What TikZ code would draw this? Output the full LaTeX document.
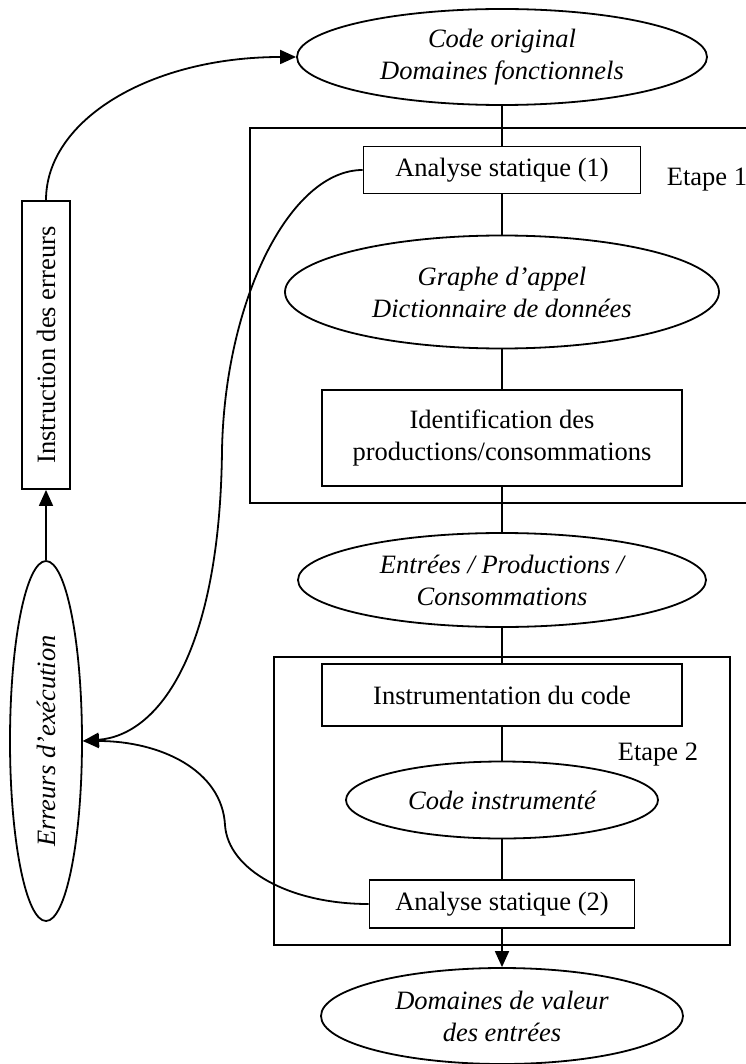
\documentclass[tikz,border=0pt]{standalone}
\usepackage{fontspec}
\setmainfont{Liberation Serif}
\usepackage{graphicx}
\usepackage{tikz}
\usetikzlibrary{arrows.meta,positioning,shapes.geometric}

\begin{document}
\begin{tikzpicture}[x=1pt, y=-1pt, line width=1.8pt,
    txt/.style={font=\fontsize{26.5pt}{32pt}\selectfont, align=center, inner sep=0pt},
    boite/.style={txt, draw, rectangle},
    bulle/.style={txt, draw, ellipse, font=\fontsize{26.5pt}{32pt}\selectfont\itshape},
    fleche/.style={-{Triangle[length=16pt,width=14pt]}}]
    \useasboundingbox (0,0) rectangle (745,1064);

    % Visual: the two steps as frames
    \draw (250,128) rectangle (770,503);
    \draw (274,657) rectangle (730,945);
    \node[txt] (etape1) at (707,180) {Etape 1};
    \node[txt] (etape2) at (658,755) {Etape 2};

    % main chain
    \node[bulle, minimum width=410pt, minimum height=96pt] (code) at (502,57) {Code original\\Domaines fonctionnels};
    \node[boite, minimum width=277pt, minimum height=47pt] (as1) at (502,170) {Analyse statique (1)};
    \node[bulle, minimum width=434pt, minimum height=113pt] (graphe) at (502,292) {Graphe d'appel\\Dictionnaire de données};
    \node[boite, minimum width=360pt, minimum height=96pt] (ident) at (502,438) {Identification des\\productions/consommations};
    \node[bulle, minimum width=408pt, minimum height=94pt] (entrees) at (502,580) {Entrées / Productions /\\Consommations};
    \node[boite, minimum width=360pt, minimum height=62pt] (instr) at (502,695) {Instrumentation du code};
    \node[bulle, minimum width=312pt, minimum height=77pt] (codeinstr) at (502,800) {Code instrumenté};
    \node[boite, minimum width=265pt, minimum height=48pt] (as2) at (502,904) {Analyse statique (2)};
    \node[bulle, minimum width=362pt, minimum height=96pt] (domaines) at (502,1016) {Domaines de valeur\\des entrées};

    % error loop on the left
    \node[boite, minimum width=48pt, minimum height=288pt] (instrerr) at (46,345) {\rotatebox{90}{Instruction des erreurs}};
    \node[bulle, minimum width=72pt, minimum height=360pt] (erreurs) at (46,741) {\rotatebox{90}{Erreurs d'exécution}};
    \coordinate (virage1) at (222,450);
    \coordinate (virage2) at (225,825);

    \draw (code) -- (as1);
    \draw (as1) -- (graphe);
    \draw (graphe) -- (ident);
    \draw (ident) -- (entrees);
    \draw (entrees) -- (instr);
    \draw (instr) -- (codeinstr);
    \draw (codeinstr) -- (as2);
    \draw[fleche] (as2) -- (domaines);

    \draw[fleche] (erreurs) -- (instrerr);
    \draw[fleche] (instrerr.north) .. controls (46,120) and (150,57) .. (code.west);
    \draw[fleche] (as1.west) .. controls (290,170) and (225,300) .. (virage1)
        .. controls (220,650) and (160,735) .. (erreurs.east);
    \draw[fleche] (as2.west) .. controls (290,904) and (228,870) .. (virage2)
        .. controls (222,770) and (160,741) .. (erreurs.east);
\end{tikzpicture}
\end{document}
